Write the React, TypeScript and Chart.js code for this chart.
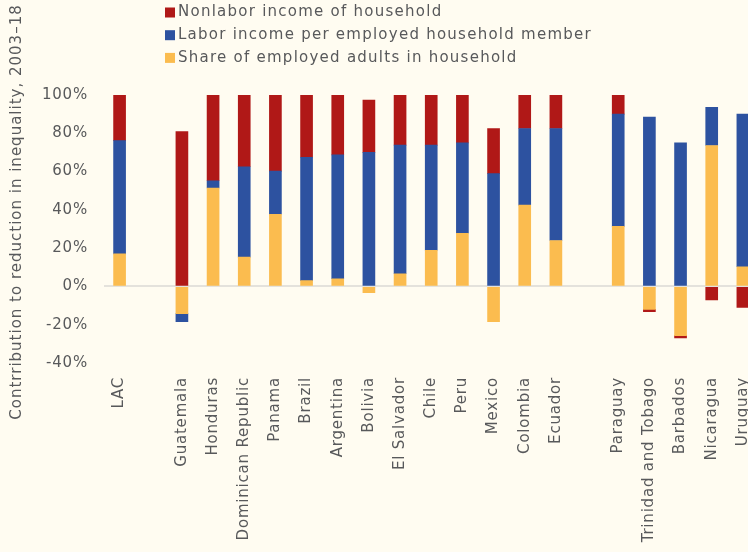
import React, { useEffect, useRef } from "react";
import { Chart, registerables } from "chart.js";

Chart.register(...registerables);

const categories = [
  "LAC", "", "Guatemala", "Honduras", "Dominican Republic", "Panama", "Brazil",
  "Argentina", "Bolivia", "El Salvador", "Chile", "Peru", "Mexico", "Colombia",
  "Ecuador", "", "Paraguay", "Trinidad and Tobago", "Barbados", "Nicaragua", "Uruguay",
];

const shareEmployed = [17, null, -14.2, 51.4, 15.3, 37.7, 3, 4, -3.3, 6.6, 18.9, 27.8, -18.4, 42.5, 24, null, 31.4, -12, -25.7, 73.6, 10.3];
const laborIncome = [59.2, null, -4.2, 3.8, 47.2, 22.5, 64.5, 64.7, 70, 67.2, 54.9, 47.2, 58.9, 40, 58.5, null, 58.6, 88.5, 75, 20, 79.7];
const nonlaborIncome = [23.8, null, 80.9, 44.8, 37.5, 39.8, 32.5, 31.3, 27.4, 26.2, 26.2, 25, 23.6, 17.5, 17.5, null, 10, -1.2, -1.2, -7.1, -11];

const seriesNames = [
  "Share of employed adults in household",
  "Labor income per employed household member",
  "Nonlabor income of household",
];

const yTitle = "Contrribution to reduction in inequality, 2003\u201318";

const FONT = "'DejaVu Sans', sans-serif";
const TEXT = "#58595b";
const RED = "#b01817";
const BLUE = "#2d52a0";
const YELLOW = "#fbbc4f";
const BG = "#fffcf1";

const overlayPlugin = {
  id: "overlay",
  beforeDraw(chart: any) {
    chart.ctx.letterSpacing = "0.8px";
  },
  afterDraw(chart: any) {
    const ctx = chart.ctx;
    ctx.save();
    ctx.font = `15px ${FONT}`;
    ctx.letterSpacing = "1.25px";
    ctx.fillStyle = TEXT;
    ctx.textBaseline = "middle";
    ctx.textAlign = "left";
    const ds = chart.data.datasets.slice().reverse();
    ds.forEach((d: any, i: number) => {
      const yc = 12.5 + i * 22.7;
      ctx.fillStyle = d.backgroundColor;
      ctx.fillRect(165, yc - 5, 10, 10);
      ctx.fillStyle = TEXT;
      ctx.fillText(d.label, 178, yc);
    });
    ctx.letterSpacing = "1px";
    ctx.translate(17, 212);
    ctx.rotate(-Math.PI / 2);
    ctx.textAlign = "center";
    ctx.fillText(yTitle, 0, 0);
    ctx.restore();
  },
};

export default function App() {
  const ref = useRef<HTMLCanvasElement>(null);
  useEffect(() => {
    const chart = new Chart(ref.current!, {
      type: "bar",
      data: {
        labels: categories,
        datasets: [
          { label: seriesNames[0], data: shareEmployed as any, backgroundColor: YELLOW },
          { label: seriesNames[1], data: laborIncome as any, backgroundColor: BLUE },
          { label: seriesNames[2], data: nonlaborIncome as any, backgroundColor: RED },
        ],
      },
      options: {
        animation: false,
        responsive: false,
        devicePixelRatio: 1,
        datasets: { bar: { barThickness: 12, borderWidth: 0 } },
        layout: { padding: { top: 95, right: 5, left: 0, bottom: 0 } },
        plugins: { legend: { display: false }, tooltip: { enabled: false } },
        scales: {
          x: {
            stacked: true,
            grid: { display: false },
            border: { display: false },
            ticks: {
              autoSkip: false,
              minRotation: 90,
              maxRotation: 90,
              padding: 6,
              color: TEXT,
              font: { family: FONT, size: 15 },
            },
            afterFit: (s: any) => {
              s.height = 189;
            },
          },
          y: {
            stacked: true,
            min: -40,
            max: 100,
            border: { display: false },
            grid: {
              drawTicks: false,
              lineWidth: 2,
              color: (c: any) => (c.tick && c.tick.value === 0 ? "#e4e2dc" : "rgba(0,0,0,0)"),
            },
            ticks: {
              stepSize: 20,
              padding: 16,
              color: TEXT,
              font: { family: FONT, size: 15 },
              callback: (v: any) => `${v}%`,
            },
            afterFit: (s: any) => {
              s.width = 104;
            },
          },
        },
      },
      plugins: [overlayPlugin],
    });
    return () => chart.destroy();
  }, []);

  return (
    <div style={{ position: "fixed", left: 0, top: 0, width: 748, height: 552, overflow: "hidden", background: BG }}>
      <canvas ref={ref} width={767} height={552} style={{ display: "block" }} />
    </div>
  );
}
